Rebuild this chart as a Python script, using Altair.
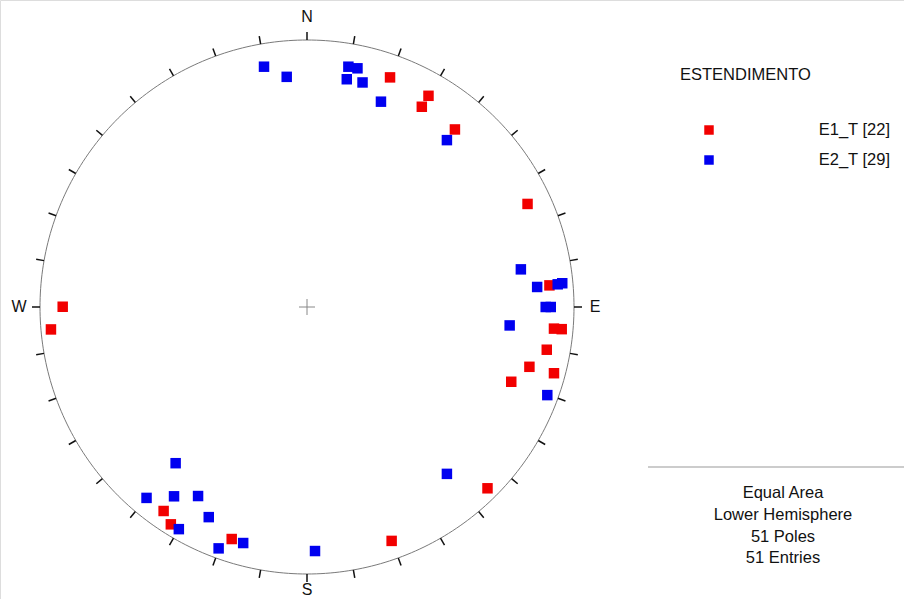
import altair as alt
import pandas as pd
import numpy as np

# Projected pole positions (unit-circle coordinates, x = East, y = North)
e1_x = [0.311, 0.455, 0.430, 0.554, 0.826, 0.908, 0.925, 0.954, 0.898, 0.833, 0.925, 0.765,
        -0.915, -0.959, -0.537, -0.510, -0.282, 0.676, 0.317]
e1_y = [0.860, 0.791, 0.750, 0.665, 0.386, 0.081, -0.081, -0.083, -0.160, -0.224, -0.248, -0.280,
        0.001, -0.084, -0.764, -0.814, -0.869, -0.679, -0.876]
e2_x = [-0.161, -0.076, 0.155, 0.189, 0.149, 0.208, 0.277, 0.524,
        0.801, 0.862, 0.939, 0.956, 0.894, 0.913, 0.759, 0.900,
        -0.492, -0.601, -0.498, -0.408, -0.368, -0.480, -0.239, -0.331,
        0.524, 0.030]
e2_y = [0.900, 0.862, 0.900, 0.894, 0.853, 0.841, 0.769, 0.625,
        0.141, 0.075, 0.085, 0.089, 0.000, 0.000, -0.069, -0.330,
        -0.585, -0.715, -0.709, -0.708, -0.787, -0.832, -0.884, -0.904,
        -0.625, -0.914]

series_names = ["E1_T [22]", "E2_T [29]"]
series_colors = ["#f20000", "#0000f0"]
legend_title = "ESTENDIMENTO"
info_lines = ["Equal Area", "Lower Hemisphere", "51 Poles", "51 Entries"]

# pixel geometry of the net
CX, CY, R = 307.0, 307.0, 267.0
W, H = 904, 599
xdom = [(0 - CX) / R, (W - CX) / R]
ydom = [(CY - H) / R, (CY - 0) / R]
xs = alt.Scale(domain=xdom, nice=False, zero=False)
ys = alt.Scale(domain=ydom, nice=False, zero=False)
pys = alt.Scale(domain=[0, H], range=[0, H], nice=False, zero=False)

pts = pd.DataFrame({
    "x": e1_x + e2_x,
    "y": e1_y + e2_y,
    "set": [series_names[0]] * len(e1_x) + [series_names[1]] * len(e2_x),
})

ang = np.linspace(0, 2 * np.pi, 361)
circ = pd.DataFrame({"x": np.sin(ang), "y": np.cos(ang), "o": np.arange(361)})

tick_az = np.radians(np.arange(0, 360, 10))
tk = pd.DataFrame({
    "x": np.sin(tick_az), "y": np.cos(tick_az),
    "x2": np.sin(tick_az) * (1 + 8 / R), "y2": np.cos(tick_az) * (1 + 8 / R),
})

cross = pd.DataFrame({
    "x": [-8 / R, 0], "x2": [8 / R, 0], "y": [0, -8 / R], "y2": [0, 8 / R]
})

X = lambda f="x": alt.X(f"{f}:Q", scale=xs, axis=None)
Y = lambda f="y": alt.Y(f"{f}:Q", scale=ys, axis=None)

circle = alt.Chart(circ).mark_line(color="#7a7a7a", strokeWidth=1).encode(
    x=X(), y=Y(), order="o:Q")
ticks = alt.Chart(tk).mark_rule(color="#111111", strokeWidth=1.5).encode(
    x=X(), y=Y(), x2="x2:Q", y2="y2:Q")
crosshair = alt.Chart(cross).mark_rule(color="#888888", strokeWidth=1).encode(
    x=X(), y=Y(), x2="x2:Q", y2="y2:Q")

points = alt.Chart(pts).mark_point(shape="square", filled=True, size=110, opacity=1).encode(
    x=X(), y=Y(),
    color=alt.Color("set:N", scale=alt.Scale(domain=series_names, range=series_colors), legend=None),
)

card = pd.DataFrame({
    "t": ["N", "E", "S", "W"],
    "x": [0, 1 + 21 / R, 0, -1 - 21 / R],
    "y": [1 + 23 / R, 0, -1 - 16 / R, 0],
})
cardinals = alt.Chart(card).mark_text(font="Liberation Sans", fontSize=16, color="#111111",
                                      baseline="middle", align="center").encode(
    x=X(), y=Y(), text="t:N")

FONT = "Liberation Sans"
FS = 16.5
title = alt.Chart(pd.DataFrame({"t": [legend_title]})).mark_text(
    font=FONT, fontSize=FS, align="left", baseline="middle", color="#111111").encode(
    x=alt.value(680), y=alt.value(75), text="t:N")

leg = pd.DataFrame({"name": series_names, "py": [130, 160]})
leg_sq = alt.Chart(leg).mark_point(shape="square", filled=True, size=90, opacity=1).encode(
    x=alt.value(709), y=alt.Y("py:Q", scale=pys, axis=None),
    color=alt.Color("name:N", scale=alt.Scale(domain=series_names, range=series_colors), legend=None))
leg_tx = alt.Chart(leg).mark_text(font=FONT, fontSize=FS, align="right", baseline="middle",
                                  color="#111111").encode(
    x=alt.value(890), y=alt.Y("py:Q", scale=pys, axis=None),
    text="name:N")

sep = alt.Chart(pd.DataFrame({"a": [0]})).mark_rule(color="#999999", strokeWidth=1).encode(
    x=alt.value(648), x2=alt.value(904), y=alt.value(467))

info = pd.DataFrame({"t": info_lines, "py": [493, 515, 537, 558]})
info_tx = alt.Chart(info).mark_text(font=FONT, fontSize=FS, align="center", baseline="middle",
                                    color="#111111").encode(
    x=alt.value(783), y=alt.Y("py:Q", scale=pys, axis=None),
    text="t:N")

chart = alt.layer(circle, ticks, crosshair, points, cardinals).properties(width=W, height=H)

side = alt.layer(title, leg_sq, leg_tx, sep, info_tx).properties(width=W, height=H)

full = alt.layer(chart, side).resolve_scale(y="independent").properties(
    width=W, height=H, autosize=alt.AutoSizeParams(type="none"), padding=0
).configure_view(stroke=None, strokeWidth=0).configure(background="white")

full.save("out.html", embed_options={"renderer": "svg", "actions": False})
